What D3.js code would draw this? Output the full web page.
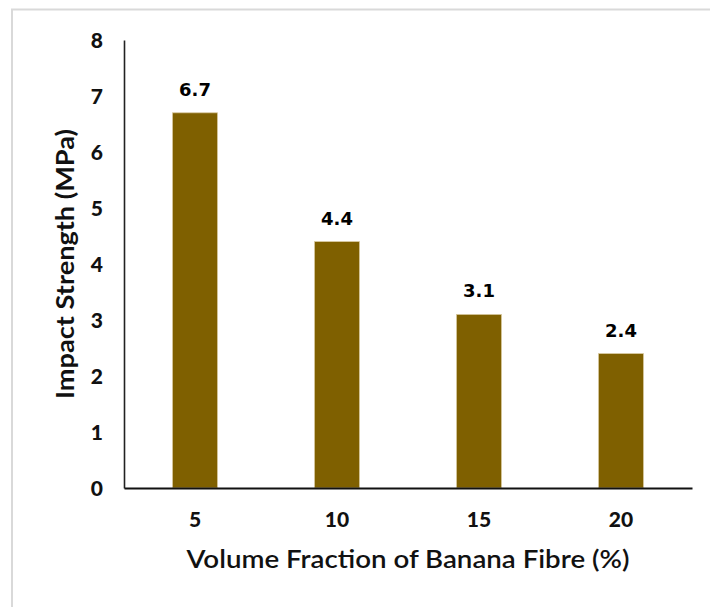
<!DOCTYPE html>
<html>
<head>
<meta charset="utf-8">
<script src="https://cdn.jsdelivr.net/npm/d3@7"></script>
<style>
  html, body { margin: 0; padding: 0; background: #fff; }
  svg { display: block; }
</style>
</head>
<body>
<svg id="chart" width="710" height="607"></svg>
<script>
const categories = ["5", "10", "15", "20"];
const values = [6.7, 4.4, 3.1, 2.4];
const valueLabels = ["6.7", "4.4", "3.1", "2.4"];
const yTicks = [0, 1, 2, 3, 4, 5, 6, 7, 8];
const xTitle = "Volume Fraction of Banana Fibre (%)";
const yTitle = "Impact Strength (MPa)";

const svg = d3.select("#chart");
const plotLeft = 124, plotRight = 692, plotTop = 40, plotBottom = 488;

// outer frame (only top and left edges visible)
svg.append("rect")
  .attr("x", 12).attr("y", 9.5)
  .attr("width", 800).attr("height", 700)
  .attr("fill", "none")
  .attr("stroke", "#d9d9d9")
  .attr("stroke-width", 2);

const x = d3.scaleBand()
  .domain(categories)
  .range([plotLeft, plotRight])
  .paddingInner(0.683)
  .paddingOuter(0.683 / 2);

const y = d3.scaleLinear().domain([0, 8]).range([plotBottom, plotTop]);

// bars
svg.append("g").selectAll("rect")
  .data(values)
  .join("rect")
  .attr("x", (d, i) => x(categories[i]))
  .attr("y", d => y(d))
  .attr("width", x.bandwidth())
  .attr("height", d => y(0) - y(d))
  .attr("fill", "#7F6000")
  .attr("stroke", "#d8c9a0")
  .attr("stroke-width", 0.8);

// data labels
svg.append("g").selectAll("text")
  .data(values)
  .join("text")
  .attr("x", (d, i) => x(categories[i]) + x.bandwidth() / 2)
  .attr("y", d => y(d) - 17)
  .attr("text-anchor", "middle")
  .attr("font-family", "DejaVu Sans, Verdana, sans-serif")
  .attr("font-weight", "bold")
  .attr("font-size", 18)
  .attr("fill", "#000")
  .text((d, i) => valueLabels[i]);

// y axis
const yAxis = svg.append("g")
  .attr("transform", `translate(${plotLeft},0)`)
  .call(d3.axisLeft(y).tickValues(yTicks).tickSize(0).tickSizeOuter(0).tickPadding(21).tickFormat(d3.format("d")));
yAxis.select(".domain").attr("stroke", "#222").attr("stroke-width", 1.6);
yAxis.selectAll("text")
  .attr("font-family", "Lato, Carlito, sans-serif")
  .attr("font-weight", 900)
  .attr("font-size", 21)
  .attr("fill", "#111")
  .attr("dy", "0.36em");

// x axis
const xAxis = svg.append("g")
  .attr("transform", `translate(0,${plotBottom})`)
  .call(d3.axisBottom(x).tickSize(0).tickSizeOuter(0).tickPadding(24));
xAxis.select(".domain").attr("stroke", "#111").attr("stroke-width", 2);
xAxis.selectAll("text")
  .attr("font-family", "Lato, Carlito, sans-serif")
  .attr("font-weight", 900)
  .attr("font-size", 21)
  .attr("fill", "#111");

// x title
svg.append("text")
  .attr("x", (plotLeft + plotRight) / 2)
  .attr("y", 568)
  .attr("text-anchor", "middle")
  .attr("font-family", "Lato, Carlito, sans-serif")
  .attr("font-weight", 600)
  .attr("font-size", 24)
  .attr("fill", "#111")
  .attr("textLength", 443)
  .attr("lengthAdjust", "spacingAndGlyphs")
  .text(xTitle);

// y title
svg.append("text")
  .attr("transform", `translate(74,${(plotTop + plotBottom) / 2}) rotate(-90)`)
  .attr("text-anchor", "middle")
  .attr("font-family", "Lato, Carlito, sans-serif")
  .attr("font-weight", "bold")
  .attr("font-size", 24)
  .attr("fill", "#111")
  .attr("textLength", 270)
  .attr("lengthAdjust", "spacingAndGlyphs")
  .text(yTitle);
</script>
</body>
</html>
